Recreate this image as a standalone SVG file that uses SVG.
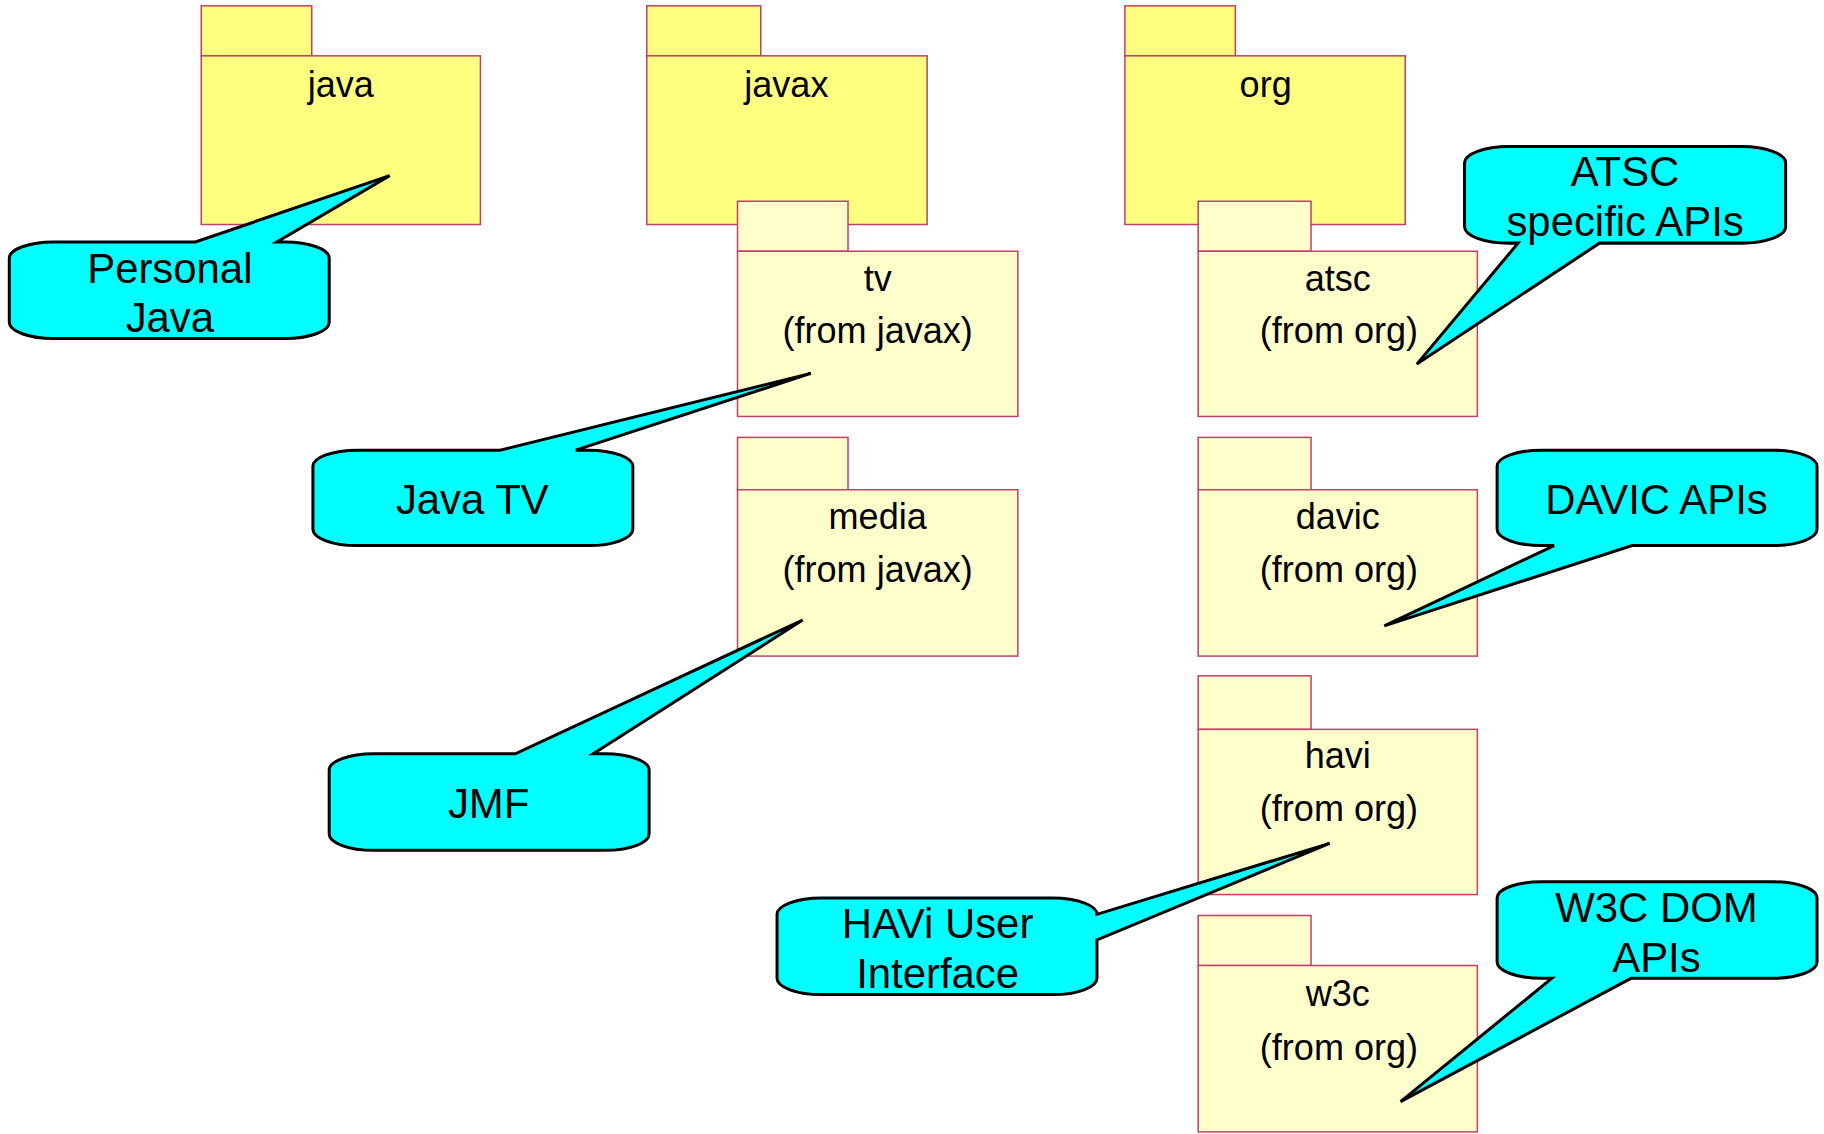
<svg xmlns="http://www.w3.org/2000/svg" width="1824" height="1134" viewBox="0 0 1824 1134">
<style>
  .pk { stroke: #C0406A; stroke-width: 1.3; }
  .dk { fill: #FFFF80; }
  .lt { fill: #FFFFCC; }
  .ft { font-family: "Liberation Sans", Arial, sans-serif; font-size: 31px; fill: #000; text-anchor: middle; }
  .co { fill: #00FFFF; stroke: #000; stroke-width: 2.6; stroke-linejoin: miter; }
  .ct { font-family: "Liberation Sans", Arial, sans-serif; font-size: 36px; fill: #000; text-anchor: middle; }
</style>
<rect width="1824" height="1134" fill="#FFFFFF"/>
<g transform="scale(1.16327)">
  <g id="pkg-java">
    <rect class="pk dk" x="173" y="5" width="95" height="43"/>
    <rect class="pk dk" x="173" y="48" width="240" height="145"/>
    <text class="ft" x="293" y="83">java</text>
  </g>
  <g id="pkg-javax">
    <rect class="pk dk" x="556" y="5" width="98" height="43"/>
    <rect class="pk dk" x="556" y="48" width="241" height="145"/>
    <text class="ft" x="676" y="83">javax</text>
  </g>
  <g id="pkg-org">
    <rect class="pk dk" x="967" y="5" width="95" height="43"/>
    <rect class="pk dk" x="967" y="48" width="241" height="145"/>
    <text class="ft" x="1088" y="83">org</text>
  </g>
  <g id="pkg-tv">
    <rect class="pk lt" x="634" y="173" width="95" height="43"/>
    <rect class="pk lt" x="634" y="216" width="241" height="142"/>
    <text class="ft" x="754.5" y="250">tv</text>
    <text class="ft" x="754.5" y="295">(from javax)</text>
  </g>
  <g id="pkg-media">
    <rect class="pk lt" x="634" y="376" width="95" height="45"/>
    <rect class="pk lt" x="634" y="421" width="241" height="143"/>
    <text class="ft" x="754.5" y="455">media</text>
    <text class="ft" x="754.5" y="500">(from javax)</text>
  </g>
  <g id="pkg-atsc">
    <rect class="pk lt" x="1030" y="173" width="97" height="43"/>
    <rect class="pk lt" x="1030" y="216" width="240" height="142"/>
    <text class="ft" x="1150" y="250">atsc</text>
    <text class="ft" x="1151" y="295">(from org)</text>
  </g>
  <g id="pkg-davic">
    <rect class="pk lt" x="1030" y="376" width="97" height="45"/>
    <rect class="pk lt" x="1030" y="421" width="240" height="143"/>
    <text class="ft" x="1150" y="455">davic</text>
    <text class="ft" x="1151" y="500">(from org)</text>
  </g>
  <g id="pkg-havi">
    <rect class="pk lt" x="1030" y="581" width="97" height="46"/>
    <rect class="pk lt" x="1030" y="627" width="240" height="142"/>
    <text class="ft" x="1150" y="660">havi</text>
    <text class="ft" x="1151" y="706">(from org)</text>
  </g>
  <g id="pkg-w3c">
    <rect class="pk lt" x="1030" y="787" width="97" height="43"/>
    <rect class="pk lt" x="1030" y="830" width="240" height="143"/>
    <text class="ft" x="1150" y="865">w3c</text>
    <text class="ft" x="1151" y="911">(from org)</text>
  </g>

  <g id="note-personal-java">
    <path class="co" d="M46,208 L168,208 L335,151 L238,208 L245,208 A38,14 0 0 1 283,222 L283,277 A38,14 0 0 1 245,291 L46,291 A38,14 0 0 1 8,277 L8,222 A38,14 0 0 1 46,208 Z"/>
    <text class="ct" x="146" y="243">Personal</text>
    <text class="ct" x="146" y="285">Java</text>
  </g>
  <g id="note-java-tv">
    <path class="co" d="M307,387 L430,387 L697,321 L495,387 L506,387 A38,14 0 0 1 544,401 L544,455 A38,14 0 0 1 506,469 L307,469 A38,14 0 0 1 269,455 L269,401 A38,14 0 0 1 307,387 Z"/>
    <text class="ct" x="406" y="442">Java TV</text>
  </g>
  <g id="note-jmf">
    <path class="co" d="M321,648 L443,648 L690,533 L510,648 L520,648 A38,14 0 0 1 558,662 L558,717 A38,14 0 0 1 520,731 L321,731 A38,14 0 0 1 283,717 L283,662 A38,14 0 0 1 321,648 Z"/>
    <text class="ct" x="420" y="703">JMF</text>
  </g>
  <g id="note-havi">
    <path class="co" d="M706,772 L905,772 A38,14 0 0 1 943,786 L1143,725 L943,808 L943,841 A38,14 0 0 1 905,855 L706,855 A38,14 0 0 1 668,841 L668,786 A38,14 0 0 1 706,772 Z"/>
    <text class="ct" x="806" y="806">HAVi User</text>
    <text class="ct" x="806" y="849">Interface</text>
  </g>
  <g id="note-atsc">
    <path class="co" d="M1297,126 L1497,126 A38,14 0 0 1 1535,140 L1535,195 A38,14 0 0 1 1497,209 L1375,209 L1218,313 L1305,209 L1297,209 A38,14 0 0 1 1259,195 L1259,140 A38,14 0 0 1 1297,126 Z"/>
    <text class="ct" x="1397" y="160">ATSC</text>
    <text class="ct" x="1397" y="203">specific APIs</text>
  </g>
  <g id="note-davic">
    <path class="co" d="M1325,387 L1524,387 A38,14 0 0 1 1562,401 L1562,455 A38,14 0 0 1 1524,469 L1403,469 L1190,538 L1336,469 L1325,469 A38,14 0 0 1 1287,455 L1287,401 A38,14 0 0 1 1325,387 Z"/>
    <text class="ct" x="1424" y="442">DAVIC APIs</text>
  </g>
  <g id="note-w3c">
    <path class="co" d="M1325,758 L1524,758 A38,14 0 0 1 1562,772 L1562,827 A38,14 0 0 1 1524,841 L1402,841 L1204,947 L1334,841 L1325,841 A38,14 0 0 1 1287,827 L1287,772 A38,14 0 0 1 1325,758 Z"/>
    <text class="ct" x="1424" y="793">W3C DOM</text>
    <text class="ct" x="1424" y="836">APIs</text>
  </g>
</g>
</svg>
